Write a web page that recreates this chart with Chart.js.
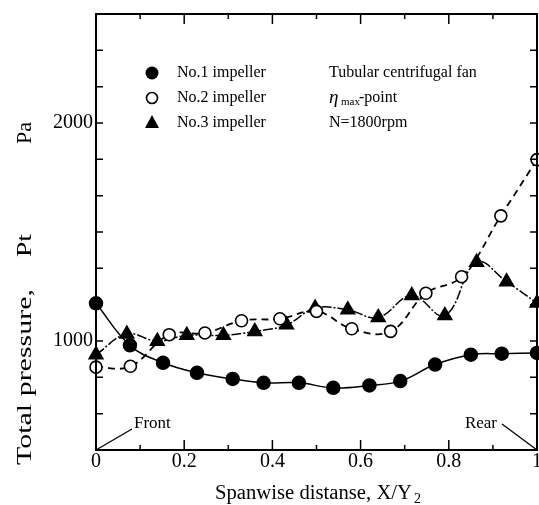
<!DOCTYPE html>
<html>
<head>
<meta charset="utf-8">
<script src="https://cdn.jsdelivr.net/npm/chart.js@4.4.1/dist/chart.umd.min.js"></script>
<style>
  html, body { margin: 0; padding: 0; background: #fff; }
  #wrap { width: 539px; height: 505px; }
</style>
</head>
<body>
<div id="wrap"><canvas id="c" width="539" height="505"></canvas></div>
<script>
// data (X/Y2, Pa)
const imp1X = [0, 0.077, 0.152, 0.229, 0.31, 0.38, 0.46, 0.538, 0.62, 0.69, 0.769, 0.85, 0.92, 1.0];
const imp1Y = [1173, 980, 900, 854, 826, 808, 808, 785, 796, 816, 892, 937, 942, 945];

const imp2X = [0, 0.078, 0.166, 0.247, 0.33, 0.417, 0.5, 0.58, 0.668, 0.748, 0.829, 0.918, 1.0];
const imp2Y = [880, 884, 1029, 1037, 1093, 1102, 1136, 1056, 1044, 1219, 1295, 1574, 1832];

const imp3X = [0, 0.07, 0.139, 0.206, 0.289, 0.36, 0.432, 0.497, 0.571, 0.64, 0.716, 0.791, 0.863, 0.931, 1.0];
const imp3Y = [937, 1032, 999, 1026, 1026, 1044, 1074, 1151, 1143, 1108, 1209, 1117, 1361, 1272, 1174];

const seriesNames = ['No.1 impeller', 'No.2 impeller', 'No.3 impeller'];
const noteLines = ['Tubular centrifugal fan', '-point', 'N=1800rpm'];
const xTickLabels = ['0', '0.2', '0.4', '0.6', '0.8', '1'];
const yTickValues = [1000, 2000];
const yTickLabels = ['1000', '2000'];

const serif = '"Liberation Serif", "DejaVu Serif", serif';

function pts(xs, ys) {
  return xs.map((x, i) => ({ x: x, y: ys[i] }));
}

// draw text squeezed/stretched to a given width
function fitText(ctx, text, x, y, width) {
  const w = ctx.measureText(text).width;
  ctx.save();
  ctx.translate(x, y);
  ctx.scale(width / w, 1);
  ctx.fillText(text, 0, 0);
  ctx.restore();
}

// frame, inward ticks, titles, legend and notes
const decor = {
  id: 'decor',
  afterDraw(chart) {
    const ctx = chart.ctx;
    const a = chart.chartArea;
    const sx = chart.scales.x, sy = chart.scales.y;
    ctx.save();
    ctx.strokeStyle = '#000';
    ctx.fillStyle = '#000';

    // ticks
    ctx.lineWidth = 1.5;
    ctx.beginPath();
    for (let k = 1; k < 10; k++) {
      const px = sx.getPixelForValue(k / 10);
      const len = k % 2 === 0 ? 10 : 5;
      ctx.moveTo(px, a.bottom); ctx.lineTo(px, a.bottom - len);
      ctx.moveTo(px, a.top); ctx.lineTo(px, a.top + len);
    }
    for (let k = 1; k < 12; k++) {
      const py = sy.getPixelForValue(500 + k * 1000 / 6);
      ctx.moveTo(a.left, py); ctx.lineTo(a.left + 7, py);
      ctx.moveTo(a.right, py); ctx.lineTo(a.right - 7, py);
    }
    ctx.stroke();

    // frame
    ctx.lineWidth = 2;
    ctx.strokeRect(a.left, a.top, a.right - a.left, a.bottom - a.top);

    // Front / Rear
    ctx.lineWidth = 1.3;
    ctx.beginPath();
    ctx.moveTo(sx.getPixelForValue(0), a.bottom);
    ctx.lineTo(sx.getPixelForValue(0) + 36, a.bottom - 21);
    ctx.moveTo(sx.getPixelForValue(1), a.bottom);
    ctx.lineTo(sx.getPixelForValue(1) - 35, a.bottom - 26);
    ctx.stroke();
    ctx.font = '17px ' + serif;
    ctx.textBaseline = 'alphabetic';
    ctx.textAlign = 'left';
    ctx.fillText('Front', a.left + 38, a.bottom - 22);
    ctx.textAlign = 'right';
    ctx.fillText('Rear', a.right - 40, a.bottom - 22);

    // x title
    ctx.textAlign = 'left';
    ctx.font = '20px ' + serif;
    fitText(ctx, 'Spanwise distanse, X/Y', 215, 499, 197);
    ctx.font = '14px ' + serif;
    ctx.fillText('2', 414, 503);

    // y title
    ctx.save();
    ctx.translate(31, 0);
    ctx.rotate(-Math.PI / 2);
    ctx.font = '20px ' + serif;
    ctx.textAlign = 'left';
    fitText(ctx, 'Total pressure,', -465, 0, 176);
    fitText(ctx, 'Pt', -257, 0, 23);
    fitText(ctx, 'Pa', -144, 0, 22);
    ctx.restore();

    // legend
    const rows = [73, 98, 123];
    const mx = 152;
    ctx.lineWidth = 1.6;
    ctx.beginPath(); ctx.arc(mx, rows[0], 6.5, 0, Math.PI * 2); ctx.fill();
    ctx.beginPath(); ctx.arc(mx, rows[1], 5.5, 0, Math.PI * 2); ctx.stroke();
    ctx.beginPath();
    ctx.moveTo(mx, rows[2] - 8); ctx.lineTo(mx + 7, rows[2] + 5); ctx.lineTo(mx - 7, rows[2] + 5);
    ctx.closePath(); ctx.fill();
    ctx.font = '16px ' + serif;
    ctx.textBaseline = 'middle';
    seriesNames.forEach((n, i) => ctx.fillText(n, 177, rows[i]));
    ctx.fillText(noteLines[0], 329, rows[0]);
    ctx.font = 'italic 19px ' + serif;
    ctx.fillText('\u03b7', 329, rows[1]);
    ctx.font = '11px ' + serif;
    ctx.fillText('max', 341, rows[1] + 4);
    ctx.font = '16px ' + serif;
    ctx.fillText(noteLines[1], 359, rows[1]);
    ctx.fillText(noteLines[2], 329, rows[2]);
    ctx.restore();
  }
};

new Chart(document.getElementById('c'), {
  type: 'scatter',
  data: {
    datasets: [
      {
        label: seriesNames[0],
        data: pts(imp1X, imp1Y),
        showLine: true,
        tension: 0.4,
        borderColor: '#000',
        borderWidth: 1.5,
        pointStyle: 'circle',
        pointRadius: 6.5,
        pointBackgroundColor: '#000',
        pointBorderColor: '#000',
        clip: false
      },
      {
        label: seriesNames[1],
        data: pts(imp2X, imp2Y),
        showLine: true,
        tension: 0.4,
        borderColor: '#000',
        borderWidth: 1.8,
        borderDash: [7, 5],
        pointStyle: 'circle',
        pointRadius: 6,
        pointBorderWidth: 1.6,
        pointBackgroundColor: '#fff',
        pointBorderColor: '#000',
        clip: false
      },
      {
        label: seriesNames[2],
        data: pts(imp3X, imp3Y),
        showLine: true,
        tension: 0.4,
        borderColor: '#000',
        borderWidth: 1.5,
        borderDash: [10, 2, 2, 2],
        pointStyle: 'triangle',
        pointRadius: 8,
        pointBackgroundColor: '#000',
        pointBorderColor: '#000',
        clip: false
      }
    ]
  },
  options: {
    responsive: false,
    animation: false,
    layout: { autoPadding: false, padding: { top: 14, right: 2, left: 0, bottom: 0 } },
    plugins: { legend: { display: false }, tooltip: { enabled: false } },
    scales: {
      x: {
        type: 'linear',
        min: 0,
        max: 1,
        grid: { display: false, drawTicks: false },
        border: { display: false },
        ticks: {
          stepSize: 0.1,
          padding: 0,
          color: '#000',
          font: { family: serif, size: 20 },
          maxRotation: 0,
          autoSkip: false,
          callback: (v) => {
            const k = Math.round(v * 10);
            return k % 2 === 0 ? xTickLabels[k / 2] : '';
          }
        },
        afterFit(s) { s.height = 55; s.paddingLeft = 0; s.paddingRight = 0; }
      },
      y: {
        type: 'linear',
        min: 500,
        max: 2500,
        grid: { display: false, drawTicks: false },
        border: { display: false },
        afterBuildTicks(s) { s.ticks = yTickValues.map(v => ({ value: v })); },
        ticks: {
          padding: 3,
          color: '#000',
          font: { family: serif, size: 20 },
          callback: (v) => {
            const i = yTickValues.indexOf(v);
            return i >= 0 ? yTickLabels[i] : '';
          }
        },
        afterFit(s) { s.width = 96; s.paddingTop = 0; s.paddingBottom = 0; }
      }
    }
  },
  plugins: [decor]
});
</script>
</body>
</html>
